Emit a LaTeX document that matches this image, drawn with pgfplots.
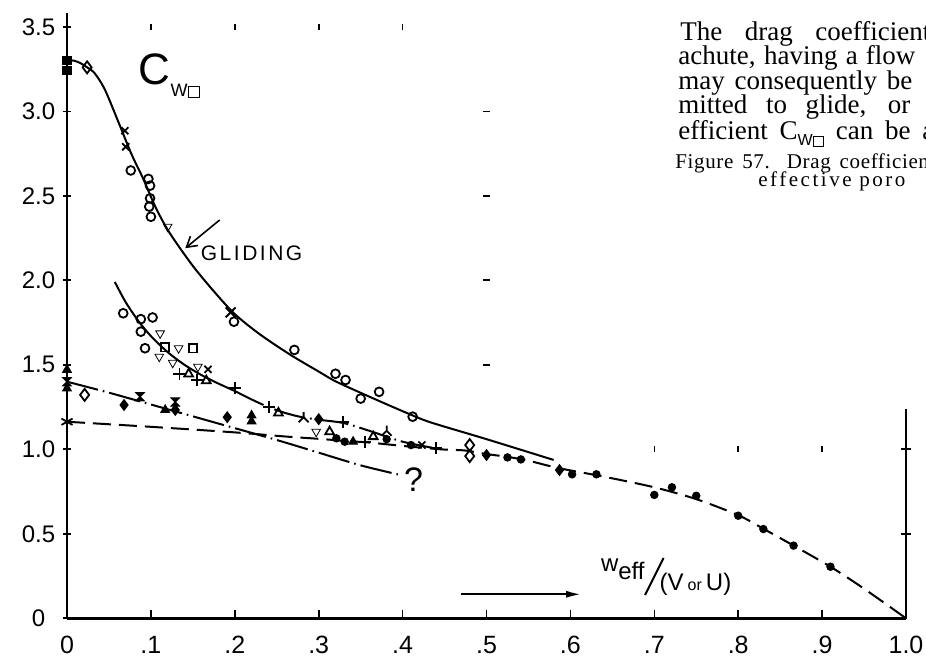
\documentclass[border=0pt]{standalone}
\usepackage{fontspec}
\setmainfont{Liberation Sans}
\newfontfamily\bookfont{Liberation Serif}
\usepackage{pgfplots}
\pgfplotsset{compat=1.18}
\usetikzlibrary{arrows.meta}

\pgfdeclareplotmark{hourglass}{%
  \pgfpathmoveto{\pgfqpoint{-\pgfplotmarksize}{\pgfplotmarksize}}%
  \pgfpathlineto{\pgfqpoint{\pgfplotmarksize}{\pgfplotmarksize}}%
  \pgfpathlineto{\pgfqpoint{-\pgfplotmarksize}{-\pgfplotmarksize}}%
  \pgfpathlineto{\pgfqpoint{\pgfplotmarksize}{-\pgfplotmarksize}}%
  \pgfpathclose
  \pgfusepathqfillstroke}
\pgfdeclareplotmark{invY}{%
  \pgfpathmoveto{\pgfqpoint{0pt}{\pgfplotmarksize}}%
  \pgfpathlineto{\pgfqpoint{0pt}{0pt}}%
  \pgfpathlineto{\pgfqpoint{-\pgfplotmarksize}{-\pgfplotmarksize}}%
  \pgfpathmoveto{\pgfqpoint{0pt}{0pt}}%
  \pgfpathlineto{\pgfqpoint{\pgfplotmarksize}{-\pgfplotmarksize}}%
  \pgfusepathqstroke}

\newcommand{\sqbox}[2]{{\setlength{\fboxsep}{0pt}\setlength{\fboxrule}{#2}\fbox{\rule{0pt}{#1}\hspace{#1}}}}

\pgfplotsset{
  opn/.style={only marks, mark options={fill=white, line width=0.9pt, solid}},
  fil/.style={only marks, mark options={fill=black, line width=0.6pt, solid}},
  dashdot/.style={dash pattern=on 16pt off 2.5pt on 0.8pt off 2.5pt},
}

\begin{document}
\begin{tikzpicture}
\begin{axis}[
  at={(33.5pt,18.85pt)}, anchor=south west,
  scale only axis, width=419.5pt, height=302.5pt,
  xmin=0, xmax=1, ymin=0, ymax=3.58,
  axis x line=bottom, axis y line=left,
  axis line style={-, line width=1.3pt, black},
  xtick={0,0.1,0.2,0.3,0.4,0.5,0.6,0.7,0.8,0.9,1},
  xticklabels={0,.1,.2,.3,.4,.5,.6,.7,.8,.9,1.0},
  ytick={0,0.5,1,1.5,2,2.5,3,3.5},
  yticklabels={0,0.5,1.0,1.5,2.0,2.5,3.0,3.5},
  tick align=center,
  major tick length=4.5pt,
  tick style={line width=0.8pt, black},
  every major x tick/.append style={yshift=2pt},
  xticklabel style={font=\fontsize{12.5}{12.5}\selectfont, anchor=center, inner sep=0pt, yshift=-11pt},
  yticklabel style={font=\fontsize{12}{12}\selectfont, anchor=center, inner sep=0pt, xshift=-12pt},
  clip=false,
]
% right-hand axis piece
\addplot[line width=1.3pt] coordinates {(1,0) (1,1.24)};
\addplot[only marks, mark=-, mark size=2.5pt, mark options={line width=0.8pt}] coordinates {(1,0.5) (1,1.0)};
% small reference marks
\addplot[only marks, mark=|, mark size=1.6pt, mark options={line width=0.8pt}] coordinates {(0.1,3.5) (0.2,3.5) (0.3,3.5) (0.4,3.5) (0.7,1.0) (0.8,1.0) (0.9,1.0)};
\addplot[only marks, mark=-, mark size=1.6pt, mark options={line width=0.8pt}] coordinates {(0.5,3.0) (0.5,2.5) (0.5,2.0) (0.5,1.5)};

% gliding curve
\addplot[smooth, line width=1pt] coordinates {(0,3.30) (0.008,3.30) (0.016,3.285) (0.024,3.26) (0.033,3.225) (0.045,3.13) (0.061,2.94) (0.077,2.745) (0.090,2.61) (0.103,2.46) (0.113,2.36) (0.125,2.26) (0.15,2.085) (0.175,1.935) (0.2,1.80) (0.23,1.68) (0.266,1.56) (0.3,1.46) (0.321,1.40) (0.361,1.31) (0.405,1.215) (0.433,1.16) (0.5,1.06) (0.58,0.937)};
% second curve (upper part solid, then dash-dot)
\addplot[smooth, line width=1pt] coordinates {(0.057,1.99) (0.07,1.87) (0.085,1.76) (0.1,1.67) (0.12,1.575) (0.14,1.50) (0.16,1.44) (0.18,1.39) (0.2,1.345)};
\addplot[smooth, line width=1pt, dashdot] coordinates {(0.2,1.345) (0.22,1.295) (0.24,1.25) (0.26,1.215) (0.28,1.19) (0.30,1.175) (0.33,1.155) (0.36,1.11) (0.40,1.045) (0.44,1.005)};
% dashed curve
\addplot[smooth, line width=1pt, dash pattern=on 9pt off 4pt] coordinates {(0,1.163) (0.1,1.133) (0.2,1.10) (0.262,1.075) (0.3,1.062) (0.33,1.05) (0.36,1.04) (0.40,1.02) (0.445,1.0) (0.474,0.993) (0.5,0.972) (0.525,0.955) (0.548,0.935) (0.58,0.895) (0.6,0.875) (0.64,0.838) (0.7,0.775) (0.75,0.705) (0.8,0.61) (0.83,0.53) (0.866,0.43) (0.91,0.305) (0.95,0.175) (1.0,0.0)};
% lower dash-dot curve
\addplot[smooth, line width=1pt, dashdot] coordinates {(0,1.40) (0.05,1.335) (0.1,1.265) (0.15,1.195) (0.2,1.125) (0.25,1.055) (0.3,0.98) (0.35,0.905) (0.40,0.845)};

% markers
\addplot[opn, mark=o, mark size=2.2pt] coordinates {(0.076,2.65) (0.097,2.60) (0.099,2.56) (0.099,2.485) (0.098,2.436) (0.100,2.376) (0.199,1.755) (0.271,1.588) (0.320,1.447) (0.332,1.41) (0.350,1.30) (0.372,1.34) (0.412,1.193) (0.067,1.805) (0.088,1.77) (0.102,1.78) (0.088,1.696) (0.093,1.598)};
\addplot[opn, mark=triangle, mark size=2.5pt, mark options={rotate=180}] coordinates {(0.12,2.317) (0.111,1.686) (0.133,1.598) (0.11,1.548) (0.126,1.512) (0.156,1.489) (0.297,1.104)};
\addplot[opn, mark=triangle, mark size=2.5pt] coordinates {(0.145,1.446) (0.166,1.406) (0.252,1.215) (0.313,1.104) (0.365,1.075)};
\addplot[opn, mark=square, mark size=2.1pt] coordinates {(0.117,1.604) (0.15,1.598)};
\addplot[only marks, mark=x, mark size=2.5pt, mark options={line width=0.9pt}] coordinates {(0.069,2.885) (0.070,2.79) (0.168,1.473) (0.423,1.025)};
\addplot[only marks, mark=x, mark size=3.5pt, mark options={line width=1pt}] coordinates {(0.195,1.81)};
\addplot[only marks, mark=+, mark size=3pt, mark options={line width=0.9pt}] coordinates {(0.134,1.446) (0.155,1.41) (0.20,1.365) (0.241,1.25) (0.329,1.163) (0.355,1.045) (0.44,1.006)};
\addplot[only marks, mark=invY, mark size=2.5pt, mark options={line width=0.9pt}] coordinates {(0.282,1.19) (0.381,1.11)};
\addplot[fil, mark=*, mark size=1.8pt] coordinates {(0.321,1.065) (0.331,1.045) (0.381,1.06) (0.41,1.025) (0.525,0.952) (0.541,0.94) (0.602,0.852) (0.631,0.852) (0.70,0.73) (0.721,0.775) (0.75,0.725) (0.80,0.607) (0.83,0.528) (0.866,0.43) (0.91,0.305)};
\addplot[fil, mark=triangle*, mark size=2.4pt] coordinates {(0,1.47) (0,1.36) (0.117,1.233) (0.22,1.20) (0.22,1.165) (0.341,1.045)};
\addplot[fil, mark=hourglass, mark size=2pt] coordinates {(0,1.40) (0.087,1.311) (0.129,1.28)};
\addplot[fil, mark=diamond*, mark size=2.6pt] coordinates {(0.068,1.262) (0.129,1.233) (0.191,1.19) (0.30,1.178) (0.50,0.966) (0.587,0.877)};
\addplot[opn, mark=diamond, mark size=3pt] coordinates {(0.024,3.26) (0.021,1.322) (0.48,1.025) (0.48,0.96)};
\addplot[fil, mark=square*, mark size=2pt] coordinates {(0,3.30) (0,3.24)};
\addplot[only marks, mark=asterisk, mark size=3.2pt, mark options={line width=0.9pt}] coordinates {(0,1.163)};

% arrows
\addplot[-{Straight Barb[length=5pt,width=6pt]}, line width=0.8pt] coordinates {(0.182,2.357) (0.141,2.19)};
\addplot[-{Latex[length=8pt,width=3.5pt]}, line width=1.2pt] coordinates {(0.47,0.142) (0.614,0.142)};
\addplot[line width=1pt] coordinates {(0.689,0.138) (0.711,0.357)};

% labels
\node[font=\fontsize{10.5}{10.5}\selectfont\addfontfeatures{LetterSpace=12}] at (axis cs:0.22,2.16) {GLIDING};
\node[font=\fontsize{22}{22}\selectfont, inner sep=0pt] at (axis cs:0.104,3.25) {C};
\node[font=\fontsize{9}{9}\selectfont, anchor=base west, inner sep=0pt] at (axis cs:0.123,3.085) {W\sqbox{5pt}{0.7pt}};
\node[font=\fontsize{17}{17}\selectfont] at (axis cs:0.413,0.82) {?};
\node[font=\fontsize{12}{12}\selectfont, anchor=base west, inner sep=0pt] at (axis cs:0.636,0.274) {w\raisebox{-4pt}{eff}};
\node[font=\fontsize{12}{12}\selectfont, anchor=base west, inner sep=0pt] at (axis cs:0.706,0.167) {(V\,{\fontsize{8}{8}\selectfont or}\,U)};
\end{axis}

% book text beside the figure
\node[anchor=base west, inner sep=0pt, font=\bookfont\fontsize{13.5}{13.5}\selectfont] at (340pt,307.5pt) {\makebox[125pt][s]{The drag coefficient}};
\node[anchor=base west, inner sep=0pt, font=\bookfont\fontsize{13.5}{13.5}\selectfont] at (339pt,295.5pt) {\makebox[118.5pt][s]{achute, having a flow}};
\node[anchor=base west, inner sep=0pt, font=\bookfont\fontsize{13.5}{13.5}\selectfont] at (339pt,283pt) {\makebox[117pt][s]{may consequently be}};
\node[anchor=base west, inner sep=0pt, font=\bookfont\fontsize{13.5}{13.5}\selectfont] at (339pt,271pt) {\makebox[116pt][s]{mitted to glide, or}};
\node[anchor=base west, inner sep=0pt, font=\bookfont\fontsize{13.5}{13.5}\selectfont] at (339pt,258pt) {\makebox[128pt][s]{efficient C\raisebox{-3pt}{\normalfont\fontsize{8}{8}\selectfont W\sqbox{4.5pt}{0.6pt}} can be a}};
\node[anchor=base west, inner sep=0pt, font=\bookfont\fontsize{10.5}{10.5}\selectfont\addfontfeatures{LetterSpace=3}] at (337.5pt,243.5pt) {\makebox[130pt][s]{Figure 57. Drag coefficient}};
\node[anchor=base west, inner sep=0pt, font=\bookfont\fontsize{10.5}{10.5}\selectfont\addfontfeatures{LetterSpace=12}] at (379pt,234.5pt) {effective poro};

\pgfresetboundingbox
\path[use as bounding box] (0,0) rectangle (463pt,328pt);
\end{tikzpicture}
\end{document}
